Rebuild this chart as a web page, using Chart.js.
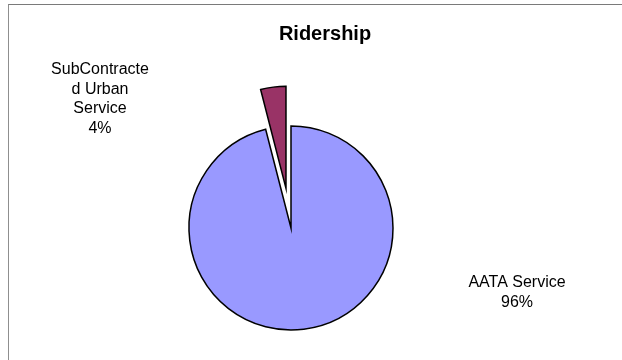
<!DOCTYPE html>
<html>
<head>
<meta charset="utf-8">
<script src="https://cdn.jsdelivr.net/npm/chart.js@4.4.1/dist/chart.umd.min.js"></script>
<style>
  html, body { margin: 0; padding: 0; background: #fff; overflow: hidden; width: 622px; height: 360px; }
  #frame { position: absolute; left: 8px; top: 4px; width: 700px; height: 420px; border-top: 1px solid #7a7a7a; border-left: 1px solid #8f8f8f; }
  #wrap { position: absolute; left: 28px; top: 0; width: 594px; height: 360px; }
</style>
</head>
<body>
<div id="frame"></div>
<div id="wrap"><canvas id="ridership-chart"></canvas></div>
<script>
// Ridership share (%)
const categories = ["AATA Service", "SubContracted Urban Service"];
const shares = [96, 4];
const sliceColors = ["#9999ff", "#993366"];
const explodePx = [0, 40];
// how the labels wrap in the original
const labelLines = [["AATA Service"], ["SubContracte", "d Urban", "Service"]];
// label anchor relative to the pie centre (first line)
const labelAnchors = [[226, 55], [-191, -158]];
const chartTitle = "Ridership";

// push exploded slices out along their bisector, keeping the radius
const explode = {
  id: "explode",
  afterDatasetsUpdate(chart) {
    chart.getDatasetMeta(0).data.forEach((arc, i) => {
      const d = explodePx[i];
      if (!d) return;
      const mid = (arc.startAngle + arc.endAngle) / 2;
      arc.x += Math.cos(mid) * d;
      arc.y += Math.sin(mid) * d;
    });
  }
};

const pieLabels = {
  id: "pieLabels",
  afterDatasetsDraw(chart) {
    const { ctx, chartArea } = chart;
    const cx = chartArea.left + chartArea.width / 2;
    const cy = chartArea.top + chartArea.height / 2;
    const lineH = 19.5;
    ctx.save();
    ctx.fillStyle = "#000";
    ctx.textAlign = "center";
    ctx.textBaseline = "middle";

    ctx.font = "bold 20px 'Liberation Sans', Arial, sans-serif";
    ctx.fillText(chartTitle, chart.width / 2, 34);

    ctx.font = "16px 'Liberation Sans', Arial, sans-serif";
    labelLines.forEach((lines, i) => {
      const x = cx + labelAnchors[i][0];
      let y = cy + labelAnchors[i][1];
      lines.concat([shares[i] + "%"]).forEach(line => {
        ctx.fillText(line, x, y);
        y += lineH;
      });
    });
    ctx.restore();
  }
};

const ctx = document.getElementById("ridership-chart").getContext("2d");

new Chart(ctx, {
  type: "pie",
  data: {
    labels: categories,
    datasets: [{
      data: shares,
      backgroundColor: sliceColors,
      borderColor: "#000",
      borderWidth: 1.5,
      borderJoinStyle: "miter"
    }]
  },
  options: {
    responsive: true,
    maintainAspectRatio: false,
    animation: false,
    radius: 102,
    layout: { padding: { left: 0, right: 68, top: 96, bottom: 0 } },
    plugins: {
      legend: { display: false },
      tooltip: { enabled: false },
      title: { display: false }
    }
  },
  plugins: [explode, pieLabels]
});
</script>
</body>
</html>
